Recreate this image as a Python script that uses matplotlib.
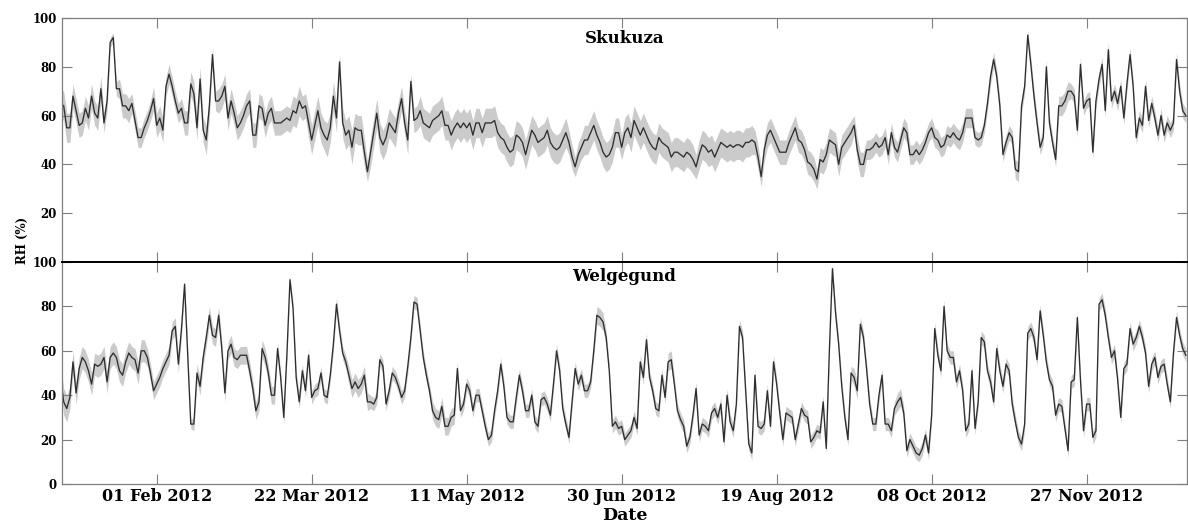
import numpy as np
import matplotlib
matplotlib.use("Agg")
import matplotlib.pyplot as plt
import matplotlib.dates as mdates

plt.rcParams['font.family'] = ['DejaVu Serif']
plt.rcParams['font.weight'] = 'bold'

start_date = np.datetime64('2012-01-01')

# Skukuza daily RH (%) and half-width of the grey band
skukuza_rh = [
    65, 64, 55, 55, 68, 62, 56, 57, 63, 59,
    68, 61, 59, 71, 57, 66, 90, 92, 71, 71,
    64, 64, 62, 65, 58, 51, 51, 55, 58, 62,
    67, 56, 59, 54, 72, 77, 72, 66, 61, 63,
    57, 57, 73, 69, 55, 75, 54, 50, 64, 85,
    66, 66, 68, 72, 59, 66, 61, 55, 57, 60,
    64, 66, 52, 52, 64, 63, 56, 61, 63, 57,
    57, 57, 58, 59, 58, 62, 61, 66, 63, 64,
    57, 50, 56, 62, 55, 52, 50, 55, 68, 59,
    82, 57, 52, 54, 47, 55, 54, 54, 45, 37,
    45, 53, 61, 51, 48, 51, 57, 55, 53, 61,
    67, 57, 50, 74, 58, 59, 62, 57, 56, 55,
    58, 59, 60, 62, 56, 56, 52, 55, 57, 55,
    57, 55, 57, 52, 57, 57, 53, 57, 57, 57,
    58, 53, 51, 50, 47, 45, 46, 52, 51, 49,
    44, 49, 54, 52, 49, 50, 51, 54, 49, 47,
    46, 47, 50, 53, 49, 43, 39, 44, 47, 50,
    50, 53, 56, 52, 49, 45, 43, 44, 47, 53,
    53, 47, 53, 55, 51, 58, 55, 52, 55, 52,
    49, 47, 46, 51, 49, 48, 47, 43, 45, 45,
    44, 43, 45, 44, 42, 39, 44, 48, 47, 45,
    46, 43, 46, 49, 48, 47, 48, 47, 48, 48,
    47, 49, 49, 50, 49, 43, 35, 46, 52, 54,
    51, 48, 45, 45, 45, 49, 52, 55, 50, 49,
    46, 41, 40, 38, 34, 42, 41, 44, 50, 49,
    48, 40, 47, 49, 51, 53, 56, 46, 40, 40,
    46, 46, 47, 49, 47, 48, 51, 44, 53, 47,
    45, 50, 55, 53, 44, 44, 46, 44, 46, 49,
    53, 55, 51, 50, 47, 48, 52, 51, 53, 51,
    50, 53, 59, 59, 59, 51, 50, 51, 56, 65,
    76, 83, 76, 64, 44, 49, 53, 51, 38, 37,
    64, 72, 93, 81, 68, 57, 47, 51, 80, 57,
    49, 42, 64, 64, 66, 70, 70, 68, 54, 81,
    63, 66, 67, 45, 66, 75, 81, 62, 87, 66,
    70, 65, 72, 59, 73, 85, 72, 51, 59, 56,
    72, 58, 65, 59, 52, 60, 52, 57, 54, 57,
    83, 70, 62, 60,
]
skukuza_spread = [
    6, 6, 6, 6, 5, 5, 5, 5, 5, 5,
    5, 5, 5, 5, 4, 4, 2, 2, 3, 4,
    5, 5, 5, 4, 4, 4, 4, 4, 4, 4,
    5, 5, 5, 5, 4, 4, 4, 4, 4, 4,
    5, 5, 5, 5, 5, 5, 5, 6, 5, 3,
    4, 5, 5, 5, 5, 5, 5, 5, 5, 5,
    5, 5, 5, 5, 5, 5, 5, 5, 5, 5,
    5, 5, 5, 5, 5, 6, 6, 6, 5, 5,
    6, 6, 6, 6, 6, 6, 7, 6, 6, 6,
    3, 6, 6, 6, 7, 6, 6, 6, 6, 4,
    6, 6, 6, 6, 6, 6, 6, 6, 6, 5,
    5, 5, 6, 3, 5, 5, 6, 6, 6, 6,
    6, 6, 6, 6, 6, 6, 6, 6, 6, 6,
    6, 6, 6, 6, 6, 6, 6, 6, 6, 6,
    6, 6, 6, 6, 6, 6, 6, 6, 6, 6,
    6, 6, 6, 6, 6, 6, 6, 6, 6, 6,
    6, 6, 6, 6, 5, 5, 4, 5, 5, 6,
    6, 6, 6, 6, 6, 6, 6, 6, 6, 6,
    6, 5, 6, 6, 6, 6, 6, 6, 6, 6,
    6, 6, 6, 6, 6, 6, 6, 6, 6, 6,
    6, 6, 6, 6, 6, 5, 6, 6, 6, 6,
    6, 6, 6, 6, 6, 6, 6, 6, 6, 6,
    6, 6, 6, 6, 5, 5, 4, 5, 5, 5,
    5, 5, 5, 5, 5, 5, 5, 5, 5, 5,
    5, 5, 5, 5, 4, 5, 5, 5, 5, 5,
    5, 5, 5, 5, 5, 5, 4, 5, 5, 5,
    4, 4, 4, 4, 4, 4, 4, 4, 4, 4,
    4, 4, 4, 4, 4, 4, 4, 4, 4, 4,
    4, 4, 4, 4, 4, 4, 4, 4, 4, 4,
    4, 4, 4, 4, 4, 3, 3, 3, 3, 3,
    3, 3, 3, 3, 3, 3, 3, 3, 4, 4,
    3, 3, 2, 3, 3, 3, 3, 3, 3, 3,
    3, 3, 4, 4, 4, 4, 3, 3, 3, 3,
    3, 3, 3, 3, 3, 3, 3, 3, 3, 3,
    3, 3, 3, 3, 3, 3, 3, 3, 3, 3,
    3, 3, 3, 3, 3, 3, 3, 3, 3, 3,
    3, 3, 3, 3,
]

# Welgegund daily RH (%) and half-width of the grey band
welgegund_rh = [
    48, 37, 34, 39, 55, 41, 52, 57, 55, 51,
    45, 54, 53, 54, 57, 46, 57, 59, 57, 51,
    49, 55, 59, 57, 56, 50, 60, 60, 57, 50,
    42, 45, 48, 52, 55, 58, 69, 71, 54, 70,
    90, 58, 27, 27, 50, 44, 57, 66, 76, 67,
    66, 76, 61, 41, 60, 63, 57, 56, 58, 58,
    58, 51, 43, 33, 37, 61, 57, 50, 40, 40,
    61, 48, 30, 58, 92, 79, 48, 37, 51, 42,
    58, 39, 42, 43, 50, 40, 39, 49, 63, 81,
    69, 59, 55, 49, 43, 46, 43, 45, 49, 37,
    37, 36, 39, 56, 53, 36, 42, 50, 48, 44,
    39, 42, 53, 66, 82, 81, 69, 57, 49, 42,
    33, 30, 29, 35, 26, 26, 30, 31, 52, 33,
    36, 45, 42, 33, 40, 40, 33, 26, 20, 22,
    33, 42, 54, 44, 30, 28, 28, 39, 49, 42,
    33, 33, 40, 28, 26, 38, 39, 36, 31, 45,
    60, 51, 34, 27, 21, 37, 52, 45, 49, 42,
    42, 46, 60, 76, 75, 73, 66, 51, 26, 28,
    25, 26, 20, 22, 24, 30, 25, 55, 48, 65,
    48, 42, 34, 33, 49, 39, 55, 56, 45, 33,
    29, 26, 17, 21, 31, 43, 22, 27, 26, 24,
    32, 34, 30, 36, 19, 40, 28, 24, 36, 71,
    66, 42, 18, 14, 49, 26, 25, 27, 42, 26,
    55, 45, 32, 20, 32, 31, 30, 20, 27, 34,
    31, 30, 19, 21, 24, 23, 37, 16, 60, 97,
    77, 63, 44, 30, 20, 50, 48, 42, 72, 66,
    52, 36, 27, 27, 40, 49, 27, 27, 24, 34,
    37, 39, 32, 15, 20, 17, 14, 13, 16, 22,
    14, 31, 70, 58, 51, 80, 60, 57, 57, 46,
    51, 42, 24, 27, 51, 25, 37, 66, 64, 51,
    46, 37, 61, 51, 44, 54, 51, 36, 28, 21,
    18, 27, 68, 70, 66, 56, 78, 67, 55, 47,
    44, 31, 36, 35, 25, 15, 46, 47, 75, 47,
    24, 36, 36, 21, 24, 81, 83, 76, 66, 57,
    60, 47, 30, 52, 54, 70, 63, 66, 71, 66,
    59, 44, 54, 57, 48, 53, 54, 45, 37, 59,
    75, 67, 61, 58,
]
welgegund_spread = [
    6, 6, 6, 5, 5, 5, 5, 5, 5, 5,
    5, 5, 5, 5, 5, 5, 5, 5, 5, 5,
    5, 5, 5, 5, 5, 5, 5, 5, 4, 4,
    4, 4, 4, 4, 4, 4, 4, 4, 4, 4,
    2, 4, 2, 3, 4, 4, 4, 4, 4, 4,
    4, 4, 4, 4, 4, 4, 4, 4, 4, 4,
    4, 4, 4, 4, 4, 4, 4, 4, 4, 4,
    3, 3, 3, 3, 2, 3, 3, 3, 3, 3,
    3, 3, 3, 3, 3, 3, 3, 3, 3, 3,
    3, 3, 3, 4, 4, 4, 4, 4, 4, 4,
    3, 3, 3, 3, 3, 3, 3, 3, 3, 3,
    3, 3, 3, 3, 3, 3, 3, 3, 3, 3,
    4, 4, 4, 4, 4, 4, 4, 4, 3, 3,
    3, 3, 3, 3, 3, 3, 3, 3, 3, 3,
    3, 3, 3, 3, 3, 3, 3, 3, 3, 3,
    3, 3, 3, 3, 3, 3, 3, 3, 3, 3,
    3, 3, 3, 3, 3, 3, 3, 3, 3, 3,
    3, 3, 3, 4, 4, 4, 3, 3, 3, 3,
    3, 3, 3, 3, 3, 3, 3, 3, 3, 3,
    3, 3, 3, 3, 3, 3, 4, 4, 3, 3,
    3, 3, 3, 3, 3, 3, 3, 3, 3, 3,
    3, 3, 3, 3, 3, 3, 3, 3, 3, 3,
    3, 3, 3, 3, 3, 3, 3, 3, 3, 3,
    3, 3, 3, 3, 3, 3, 3, 3, 3, 3,
    3, 3, 3, 3, 3, 3, 3, 3, 3, 2,
    3, 3, 3, 3, 3, 3, 4, 4, 3, 3,
    3, 3, 3, 3, 3, 3, 3, 3, 3, 3,
    4, 4, 3, 3, 3, 3, 3, 3, 3, 3,
    3, 3, 3, 3, 3, 3, 3, 3, 3, 3,
    3, 3, 3, 3, 3, 3, 3, 3, 3, 3,
    3, 3, 3, 3, 3, 3, 3, 3, 3, 3,
    3, 3, 3, 3, 3, 3, 3, 3, 3, 3,
    3, 3, 3, 3, 3, 3, 3, 3, 3, 3,
    3, 3, 3, 3, 3, 3, 3, 3, 3, 3,
    3, 3, 3, 3, 3, 3, 3, 3, 3, 3,
    3, 3, 3, 3, 3, 3, 3, 3, 3, 3,
    3, 3, 3, 3,
]

panel_titles = ['Skukuza', 'Welgegund']
tick_dates = ['2012-02-01', '2012-03-22', '2012-05-11', '2012-06-30',
              '2012-08-19', '2012-10-08', '2012-11-27']

W, H = 1188, 522
fig = plt.figure(figsize=(W / 100, H / 100), dpi=100)
left, right = 62, 1187
ax1 = fig.add_axes([left / W, 1 - 262 / H, (right - left) / W, 244 / H])
ax2 = fig.add_axes([left / W, 1 - 484 / H, (right - left) / W, 222 / H], sharex=ax1)

gray = '#7f7f7f'
series = [(ax1, skukuza_rh, skukuza_spread), (ax2, welgegund_rh, welgegund_spread)]
for i, (ax, rh, sp) in enumerate(series):
    rh = np.array(rh, dtype=float)
    sp = np.array(sp, dtype=float)
    dates = start_date + np.arange(len(rh)).astype('timedelta64[D]')
    dates = dates.astype('datetime64[ms]').astype(object)
    ax.fill_between(dates, rh - sp, rh + sp, color='#cbcbcb', lw=0)
    ax.plot(dates, rh, color='#2e2e2e', lw=0.95)
    ax.set_ylim(0, 100)
    ax.tick_params(direction='in', length=7, width=0.8, top=True, right=True,
                   color=gray, labelsize=8.5, pad=4)
    for s in ax.spines.values():
        s.set_color(gray)
        s.set_linewidth(0.9)
    ax.text(0.5, 0.918 if i == 0 else 0.934, panel_titles[i], transform=ax.transAxes,
            ha='center', va='center', fontsize=12, fontweight='bold')

ax1.set_yticks([20, 40, 60, 80, 100])
ax2.set_yticks([0, 20, 40, 60, 80, 100])
ax1.spines['bottom'].set_color('black')
ax1.spines['bottom'].set_linewidth(1.4)
ax2.spines['top'].set_color('black')
ax2.spines['top'].set_linewidth(1.4)

x0 = (np.datetime64('2012-01-01') + np.timedelta64(11, 'h')).astype('datetime64[ms]').astype(object)
x1 = (np.datetime64('2012-12-29') + np.timedelta64(9, 'h')).astype('datetime64[ms]').astype(object)
ax2.set_xlim(x0, x1)
ax2.set_xticks([np.datetime64(t).astype('datetime64[ms]').astype(object) for t in tick_dates])
ax2.xaxis.set_major_formatter(mdates.DateFormatter('%d %b %Y'))
plt.setp(ax1.get_xticklabels(), visible=False)
ax2.tick_params(axis='x', labelsize=11.5, pad=3)
ax2.set_xlabel('Date', fontsize=12.5, fontweight='bold', labelpad=1)

fig.text(22 / W, 1 - 240 / H, 'RH (%)', rotation=90, ha='center', va='center',
         fontsize=8.5, fontweight='bold')

fig.savefig('out.png', dpi=100)
